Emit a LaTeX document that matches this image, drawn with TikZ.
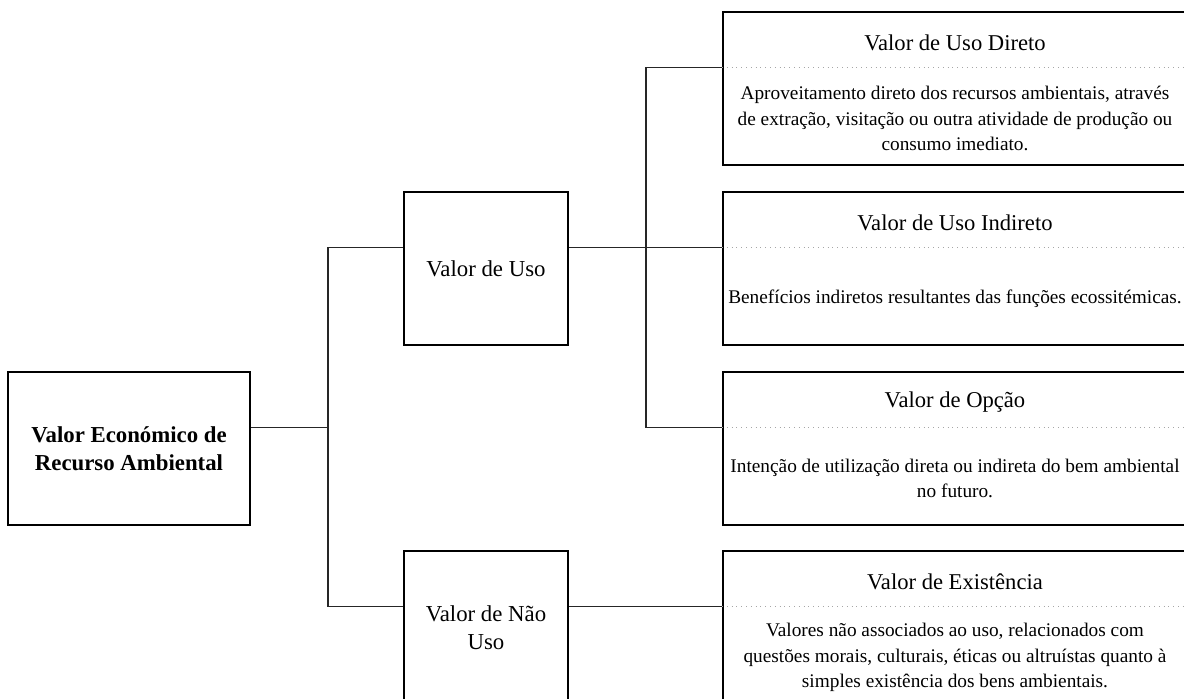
\documentclass[tikz,border=0pt]{standalone}
\usepackage{fontspec}
\setmainfont{Liberation Serif}
\usetikzlibrary{positioning}
\begin{document}
\begin{tikzpicture}[x=0.5pt, y=-0.5pt,
    box/.style={draw=black, line width=1pt, fill=white, inner sep=0pt,
      minimum width=#1, minimum height=76.5pt, align=center,
      font=\fontsize{11.4}{14}\selectfont},
    headtext/.style={font=\fontsize{11.3}{14}\selectfont, inner sep=0pt},
    bodytext/.style={font=\fontsize{9.65}{12.6}\selectfont, align=center, inner sep=0pt},
    conn/.style={draw=black!85, line width=0.6pt},
    sep/.style={draw=black!35, dotted, line width=0.4pt}]
  \useasboundingbox (0,0) rectangle (1184,699);
  \fill[white] (0,0) rectangle (1184,699);
  \clip (0,0) rectangle (1184,699);

  % root
  \node[box=121pt] (root) at (129,449) {\bfseries Valor Económico de\\\bfseries Recurso Ambiental};

  % use / non-use
  \node[box=82pt] (uso) at (486,269) {Valor de Uso};
  \node[box=82pt] (nao) at (486,628) {Valor de Não\\Uso};

  % detail boxes
  \node[box=232pt] (dir) at (955,89) {};
  \node[box=232pt] (ind) at (955,269) {};
  \node[box=232pt] (opc) at (955,449) {};
  \node[box=232pt] (ext) at (955,628) {};

  \foreach \n in {dir,ind,opc,ext}
    \draw[sep] ([yshift=-28pt]\n.north west) -- ([yshift=-28pt]\n.north east);

  \node[headtext] (dirhead) at ([yshift=-15.5pt]dir.north) {Valor de Uso Direto};
  \node[bodytext] (dirbody) at ([yshift=-53.5pt]dir.north)
    {Aproveitamento direto dos recursos ambientais, através\\de extração, visitação ou outra atividade de produção ou\\consumo imediato.};
  \node[headtext] (indhead) at ([yshift=-15.5pt]ind.north) {Valor de Uso Indireto};
  \node[bodytext] (indbody) at ([yshift=-53.5pt]ind.north)
    {Benefícios indiretos resultantes das funções ecossitémicas.};
  \node[headtext] (opchead) at ([yshift=-15.5pt]opc.north) {Valor de Opção};
  \node[bodytext] (opcbody) at ([yshift=-53.5pt]opc.north)
    {Intenção de utilização direta ou indireta do bem ambiental\\no futuro.};
  \node[headtext] (exthead) at ([yshift=-15.5pt]ext.north) {Valor de Existência};
  \node[bodytext] (extbody) at ([yshift=-53.5pt]ext.north)
    {Valores não associados ao uso, relacionados com\\questões morais, culturais, éticas ou altruístas quanto à\\simples existência dos bens ambientais.};

  % connectors
  \draw[conn] ([yshift=-28pt]root.north east) -- ++(77,0) coordinate (j1);
  \draw[conn] ([yshift=-28pt]uso.north west) -| (j1) |- ([yshift=-28pt]nao.north west);
  \draw[conn] ([yshift=-28pt]uso.north east) -- ([yshift=-28pt]ind.north west);
  \path ([yshift=-28pt]uso.north east) -- ++(77,0) coordinate (j2);
  \draw[conn] ([yshift=-28pt]dir.north west) -| (j2) |- ([yshift=-28pt]opc.north west);
  \draw[conn] ([yshift=-28pt]nao.north east) -- ([yshift=-28pt]ext.north west);
\end{tikzpicture}
\end{document}
